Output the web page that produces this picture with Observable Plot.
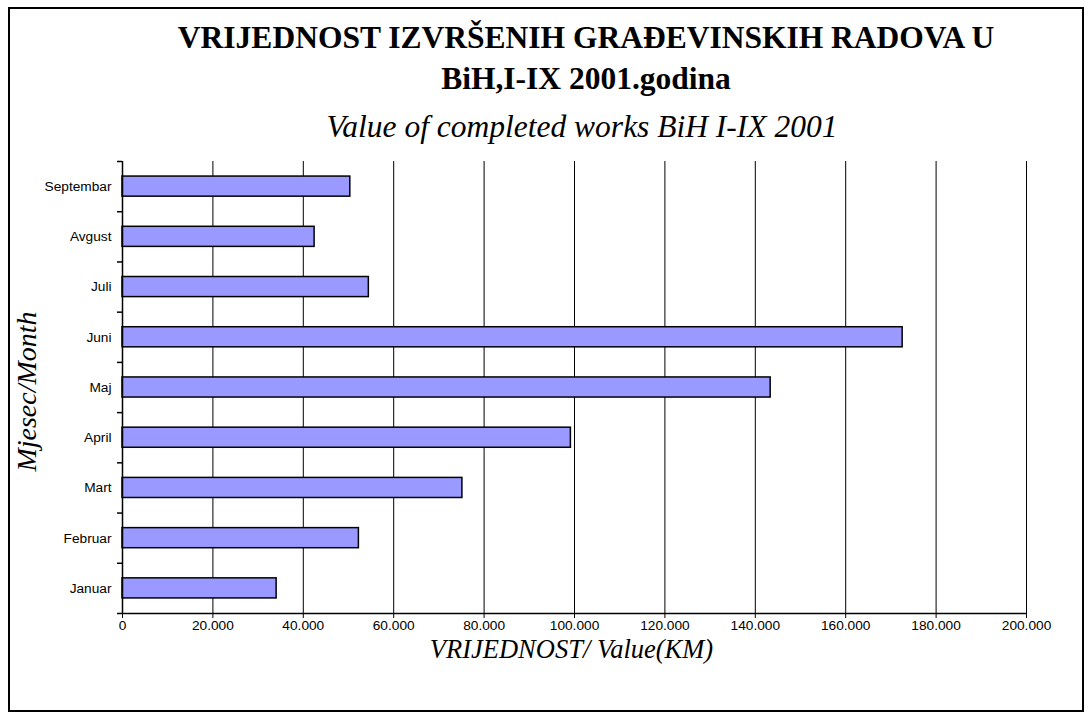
<!DOCTYPE html>
<html>
<head>
<meta charset="utf-8">
<script src="https://cdn.jsdelivr.net/npm/d3@7"></script>
<script src="https://cdn.jsdelivr.net/npm/@observablehq/plot@0.6"></script>
<style>
  html, body { margin: 0; padding: 0; background: #fff; }
  #page { position: relative; width: 1091px; height: 719px; overflow: hidden; background: #fff; }
  #frame { position: absolute; left: 8px; top: 7px; width: 1076px; height: 705px; border: 2px solid #000; box-sizing: border-box; }
  .t { position: absolute; transform: translateX(-50%); white-space: nowrap; font-family: "Liberation Serif", "Times New Roman", serif; line-height: 1; color: #000; }
  #t1 { left: 586px; top: 22px; font-size: 31.5px; font-weight: bold; }
  #t2 { left: 586px; top: 63px; font-size: 31.5px; font-weight: bold; }
  #t3 { left: 582px; top: 111px; font-size: 31.5px; font-style: italic; }
  #chart { position: absolute; left: 0; top: 150px; }
</style>
</head>
<body>
<div id="page">
  <div id="frame"></div>
  <div class="t" id="t1">VRIJEDNOST IZVRŠENIH GRAĐEVINSKIH RADOVA U</div>
  <div class="t" id="t2">BiH,I-IX 2001.godina</div>
  <div class="t" id="t3">Value of completed works BiH I-IX 2001</div>
  <div id="chart"></div>
</div>
<script>
// Categories (bottom to top) and values
const months = ["Januar", "Februar", "Mart", "April", "Maj", "Juni", "Juli", "Avgust", "Septembar"];
const values = [34100, 52300, 75200, 99200, 143400, 172600, 54500, 42500, 50400];
const xTicks = [0, 20000, 40000, 60000, 80000, 100000, 120000, 140000, 160000, 180000, 200000];
const xLabel = "VRIJEDNOST/ Value(KM)";
const yLabel = "Mjesec/Month";

const data = months.map((m, i) => ({month: m, value: values[i], i}));
const centers = months.map((m, i) => i + 0.5);
const bounds = [0, ...months.map((m, i) => i + 1)];

const loc = d3.formatLocale({decimal: ",", thousands: ".", grouping: [3], currency: ["", ""]});
const fmt = loc.format(",");

const chart = Plot.plot({
  width: 1091,
  height: 530,
  marginLeft: 122,
  marginRight: 65,
  marginTop: 11,
  marginBottom: 67,
  style: {fontFamily: "'Liberation Sans', Arial, sans-serif", fontSize: "13.7px", color: "#000", background: "transparent", overflow: "visible"},
  x: {domain: [0, 200000]},
  y: {domain: [0, months.length]},
  marks: [
    Plot.gridX(xTicks, {stroke: "#000", strokeOpacity: 1, strokeWidth: 1}),
    Plot.rectX(data, {x: "value", y1: d => d.i + 0.3, y2: d => d.i + 0.7, fill: "#9999FF", stroke: "#000", strokeWidth: 1.5}),
    Plot.ruleX([0], {stroke: "#000", strokeWidth: 1.5}),
    Plot.ruleY([0], {stroke: "#000", strokeWidth: 1.5}),
    Plot.axisX({ticks: xTicks, tickFormat: fmt, tickSize: 5, tickPadding: 2, label: null, stroke: "#000"}),
    Plot.axisY({ticks: centers, tickFormat: d => months[Math.floor(d)], tickSize: 0, tickPadding: 11, label: null}),
    Plot.axisY({ticks: bounds, tickFormat: () => "", tickSize: 5, label: null, stroke: "#000", strokeWidth: 1.5}),
    Plot.text([xLabel], {text: d => d, frameAnchor: "bottom", textAnchor: "middle", lineAnchor: "bottom", dy: 44, dx: -3, fontFamily: "'Liberation Serif', 'Times New Roman', serif", fontStyle: "italic", fontSize: 26.5, fill: "#000"}),
    Plot.text([yLabel], {text: d => d, frameAnchor: "left", textAnchor: "middle", lineAnchor: "bottom", rotate: -90, dx: -87, dy: 4, fontFamily: "'Liberation Serif', 'Times New Roman', serif", fontStyle: "italic", fontSize: 28, fill: "#000"})
  ]
});
document.getElementById("chart").appendChild(chart);
</script>
</body>
</html>
